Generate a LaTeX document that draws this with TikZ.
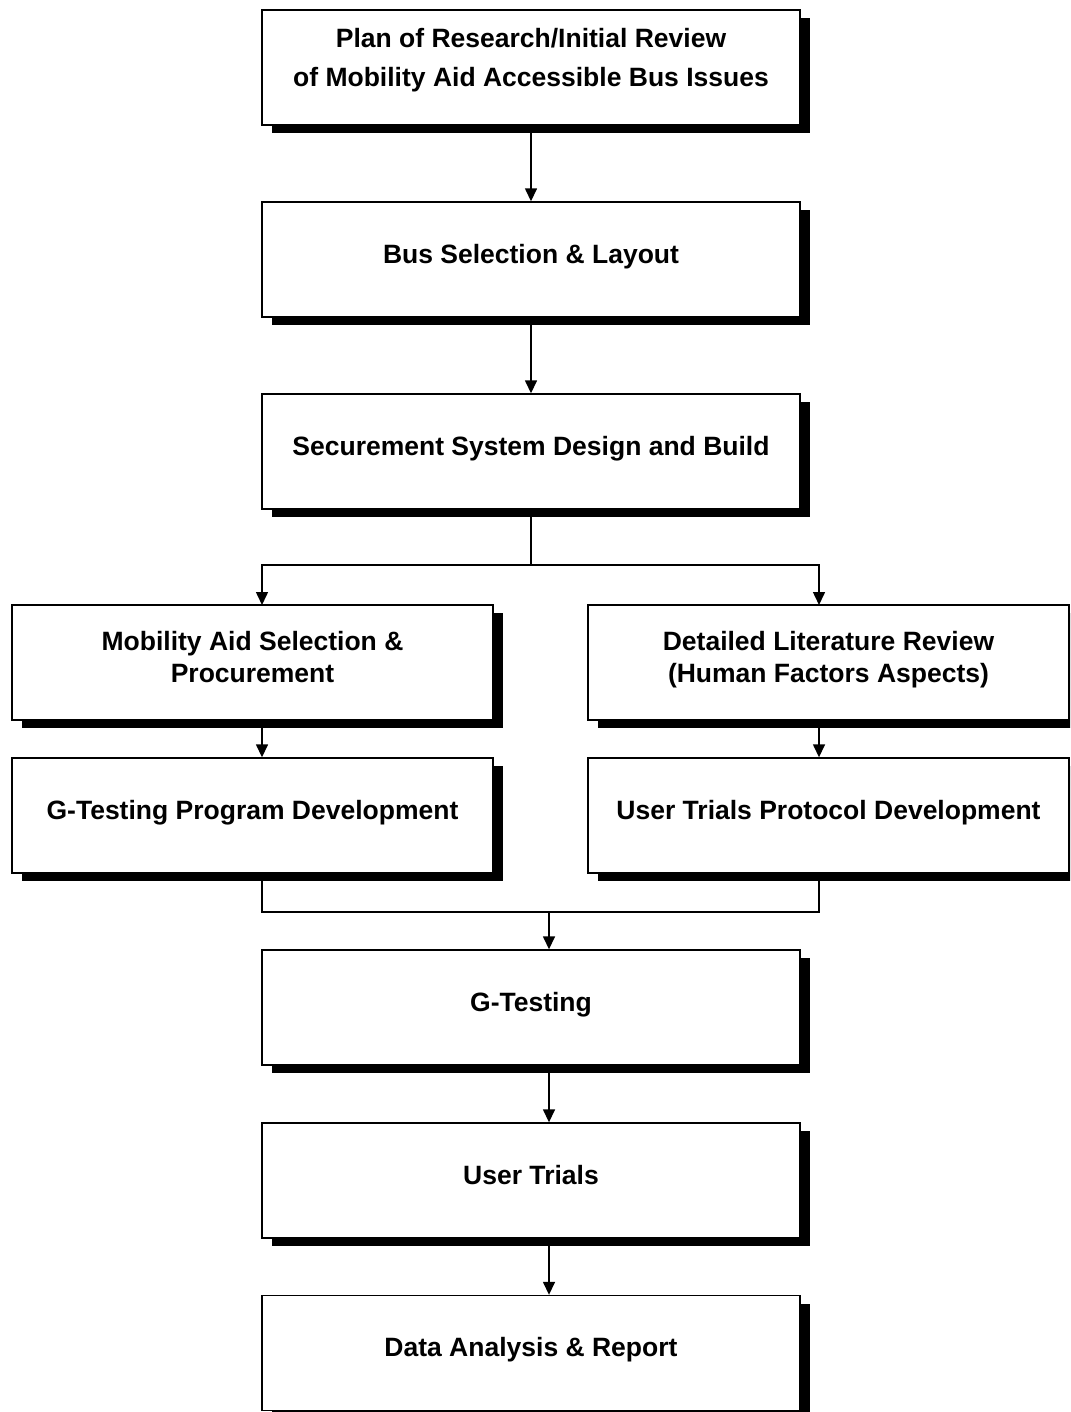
\documentclass[tikz,border=0pt]{standalone}
\usepackage{fontspec}
\setmainfont{Liberation Sans}
\usetikzlibrary{arrows.meta,shadows,calc}
\tikzset{
  stage/.style={draw=black, line width=1.4pt, fill=white, align=center, inner sep=0pt,
    font=\bfseries\fontsize{26.5}{32}\selectfont, text depth=12pt,
    minimum width=538pt, minimum height=115pt,
    drop shadow={shadow xshift=10pt, shadow yshift=-8pt, fill=black, opacity=1}},
  half/.style={stage, minimum width=481pt},
  arr/.style={-{Triangle[length=13pt,width=12pt]}, line width=1.5pt},
  ln/.style={line width=1.5pt},
}
\begin{document}
\begin{tikzpicture}[x=1pt,y=-1pt]
  \useasboundingbox (0,0) rectangle (1070,1412);
  \clip (0,0) rectangle (1070,1412);
  % main column
  \node[stage, font=\bfseries\fontsize{26.5}{39}\selectfont, text depth=20pt] (plan) at (531,67.5) {Plan of Research/Initial Review\\of Mobility Aid Accessible Bus Issues};
  \node[stage] (bus) at (531,259.5) {Bus Selection \& Layout};
  \node[stage] (sec) at (531,451.5) {Securement System Design and Build};
  % two branches
  \node[half] (mob) at (252.5,662.5) {Mobility Aid Selection \&\\Procurement};
  \node[half] (gprog) at (252.5,815.5) {G-Testing Program Development};
  \node[half] (lit) at (828.5,662.5) {Detailed Literature Review\\(Human Factors Aspects)};
  \node[half] (uprot) at (828.5,815.5) {User Trials Protocol Development};
  % lower column
  \node[stage] (gtest) at (531,1007.5) {G-Testing};
  \node[stage] (trials) at (531,1180.5) {User Trials};
  \node[stage] (report) at (531,1353) {Data Analysis \& Report};
  % connectors
  \coordinate (split) at (531,565);
  \coordinate (mobin) at (262,605);
  \coordinate (litin) at (819,605);
  \coordinate (join) at (549,912);
  \draw[arr] (plan) -- (bus);
  \draw[arr] (bus) -- (sec);
  \draw[ln] (sec.south) -- (split);
  \draw[arr] (split) -| (mobin);
  \draw[arr] (split) -| (litin);
  \draw[arr] (mob.south -| mobin) -- (gprog.north -| mobin);
  \draw[arr] (lit.south -| litin) -- (uprot.north -| litin);
  \draw[ln] (gprog.south -| mobin) |- (join) -| (uprot.south -| litin);
  \draw[arr] (join) -- (gtest.north -| join);
  \draw[arr] (gtest.south -| join) -- (trials.north -| join);
  \draw[arr] (trials.south -| join) -- (report.north -| join);
\end{tikzpicture}
\end{document}
